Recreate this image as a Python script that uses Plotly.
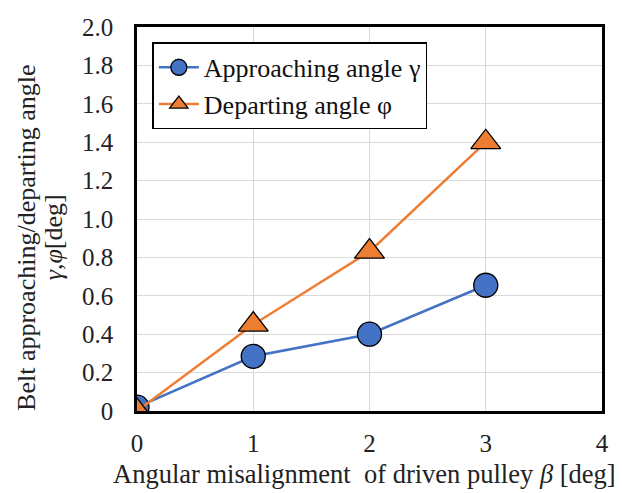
import plotly.graph_objects as go

# Angular misalignment of the driven pulley [deg]
beta = [0, 1, 2, 3]
# Belt approaching angle gamma [deg]
gamma = [0.02, 0.285, 0.40, 0.655]
# Belt departing angle phi [deg]
phi = [0.0, 0.45, 0.83, 1.40]

y_tickvals = [0, 0.2, 0.4, 0.6, 0.8, 1.0, 1.2, 1.4, 1.6, 1.8, 2.0]
y_ticktext = ["0", "0.2", "0.4", "0.6", "0.8", "1.0", "1.2", "1.4", "1.6", "1.8", "2.0"]
x_tickvals = [0, 1, 2, 3, 4]

FONT = "Liberation Serif"
BLUE = "#4472C4"
ORANGE = "#ED7D31"
TEXT = "#222222"

fig = go.Figure()
fig.add_trace(go.Scatter(
    x=beta, y=gamma, mode="lines+markers", name="Approaching angle γ",
    line=dict(color=BLUE, width=2.5),
    marker=dict(symbol="circle", size=24, color=BLUE,
                line=dict(color="black", width=1.3)),
))
fig.add_trace(go.Scatter(
    x=beta, y=phi, mode="lines+markers", name="Departing angle φ",
    line=dict(color=ORANGE, width=2.5),
    marker=dict(symbol="triangle-up", size=26, color=ORANGE,
                line=dict(color="black", width=1.3)),
))

fig.update_layout(
    width=622, height=493,
    margin=dict(l=137, r=20, t=27, b=82),
    paper_bgcolor="white", plot_bgcolor="white",
    font=dict(family=FONT, size=25, color=TEXT),
    showlegend=True,
    legend=dict(
        x=0.033, y=0.96, xanchor="left", yanchor="top",
        bgcolor="white", bordercolor="black", borderwidth=1.5,
        font=dict(family=FONT, size=26, color="#111111"),
        itemwidth=40, tracegroupgap=4,
    ),
)

fig.update_xaxes(
    range=[0, 4], tickvals=x_tickvals,
    showgrid=True, gridcolor="#D9D9D9", gridwidth=1.3,
    showline=True, linecolor="black", linewidth=2.5, mirror=True,
    ticks="", ticklabelstandoff=8, zeroline=False,
    tickfont=dict(family=FONT, size=25),
)
fig.update_yaxes(
    range=[0, 2.0], tickvals=y_tickvals, ticktext=y_ticktext,
    showgrid=True, gridcolor="#D9D9D9", gridwidth=1.3,
    showline=True, linecolor="black", linewidth=2.5, mirror=True,
    ticks="", ticklabelstandoff=16, zeroline=False,
    tickfont=dict(family=FONT, size=25),
)

# x-axis title
fig.add_annotation(
    text="Angular misalignment  of driven pulley <i>β</i> [deg]",
    xref="paper", yref="paper", x=0.49, y=-0.165,
    xanchor="center", yanchor="middle",
    showarrow=False, font=dict(family=FONT, size=26.5, color=TEXT),
)

# Two-line y-axis title, set as two rotated lines with tight spacing
fig.add_annotation(
    text="Belt approaching/departing angle",
    xref="paper", yref="paper", x=-0.239, y=0.453,
    xanchor="center", yanchor="middle", textangle=-90,
    showarrow=False, font=dict(family=FONT, size=26, color=TEXT),
)
fig.add_annotation(
    text="<i>γ</i>,<i>φ</i>[deg]",
    xref="paper", yref="paper", x=-0.18, y=0.453,
    xanchor="center", yanchor="middle", textangle=-90,
    showarrow=False, font=dict(family=FONT, size=26, color=TEXT),
)

fig.write_html("out.html")
